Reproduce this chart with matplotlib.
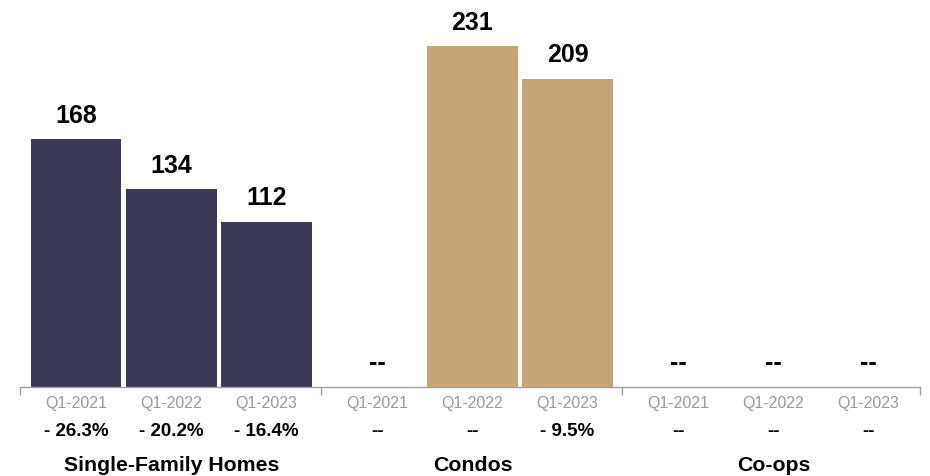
import matplotlib
matplotlib.use('Agg')
import matplotlib.pyplot as plt

plt.rcParams['font.family'] = ['Liberation Sans', 'DejaVu Sans']

# data (None = no data, shown as "--")
groups = ['Single-Family Homes', 'Condos', 'Co-ops']
periods = ['Q1-2021', 'Q1-2022', 'Q1-2023']
sfh_values = [168, 134, 112]
condo_values = [None, 231, 209]
coop_values = [None, None, None]
sfh_changes = ['- 26.3%', '- 20.2%', '- 16.4%']
condo_changes = ['--', '--', '- 9.5%']
coop_changes = ['--', '--', '--']

values = [sfh_values, condo_values, coop_values]
changes = [sfh_changes, condo_changes, coop_changes]
colors = ['#3b3957', '#c4a775', '#c4a775']

group_step = 3.16
fig = plt.figure(figsize=(9.3, 4.77), dpi=100)
ax = fig.add_axes([20 / 930, 89 / 477, 900 / 930, 388 / 477])

xs, labels = [], []
for g, grp in enumerate(groups):
    for i, p in enumerate(periods):
        x = g * group_step + i
        xs.append(x)
        labels.append(p)
        v = values[g][i]
        if v is not None:
            ax.bar(x, v, width=0.95, color=colors[g], linewidth=0)
            ax.annotate(str(v), (x, v), xytext=(0, 12.5), textcoords='offset points',
                        ha='center', va='baseline', fontsize=18, fontweight='bold')
        else:
            ax.annotate('--', (x, 0), xytext=(0, 13), textcoords='offset points',
                        ha='center', va='baseline', fontsize=18, fontweight='bold')
        ax.text(x, -0.1134, changes[g][i], transform=ax.get_xaxis_transform(),
                ha='center', va='center', fontsize=13.5, fontweight='bold')
    ax.text(g * group_step + 1, -0.2, grp, transform=ax.get_xaxis_transform(),
            ha='center', va='center', fontsize=15.3, fontweight='bold')

bounds = [-0.59, 2.575, 5.73, 8.86]
ax.set_xlim(bounds[0], bounds[-1])
ax.set_ylim(0, 263)
ax.set_xticks(xs)
ax.set_xticklabels(labels, color='#999999', fontsize=11.5)
ax.set_xticks(bounds, minor=True)
ax.tick_params(axis='x', which='major', length=0, pad=5.5)
ax.tick_params(axis='x', which='minor', length=6, color='#a0a0a0', width=1)
ax.set_yticks([])
for s in ['top', 'right', 'left']:
    ax.spines[s].set_visible(False)
ax.spines['bottom'].set_color('#a0a0a0')
ax.spines['bottom'].set_linewidth(1)

fig.savefig('out.png', dpi=100)
